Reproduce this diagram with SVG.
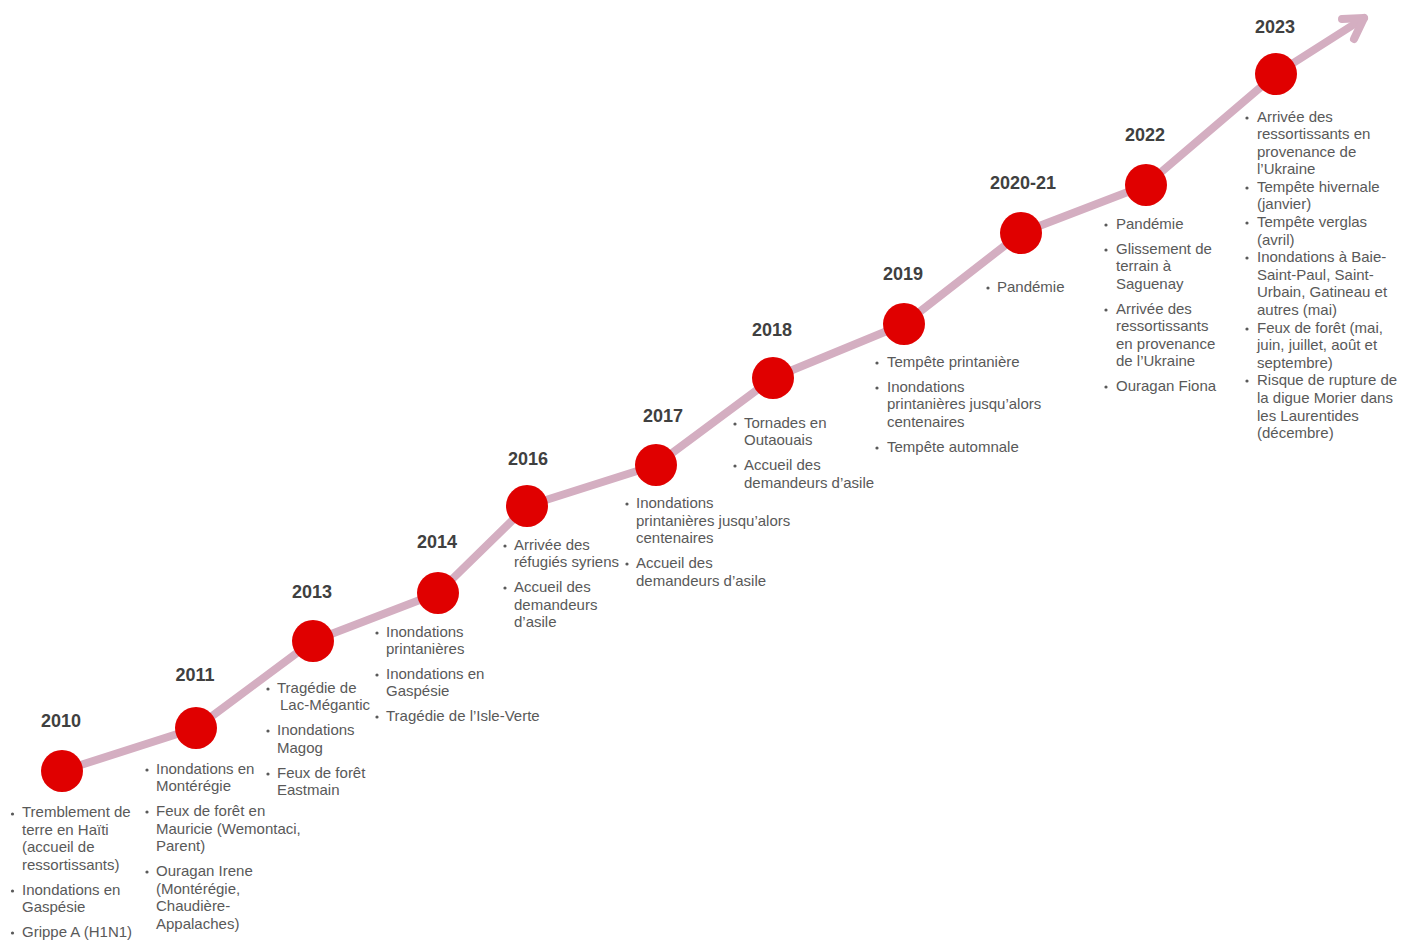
<svg xmlns="http://www.w3.org/2000/svg" width="1406" height="940" viewBox="0 0 1406 940">
<style>
.yr{font-family:"Liberation Sans",Arial,sans-serif;font-size:18px;font-weight:bold;fill:#404040;text-anchor:middle}
.tx{font-family:"Liberation Sans",Arial,sans-serif;font-size:15px;fill:#595959}
.dot{fill:#E00000}
.bl{fill:#595959}
.ln{fill:none;stroke:#D4AEC1;stroke-width:8;stroke-linecap:round;stroke-linejoin:round}
</style>
<rect width="1406" height="940" fill="#ffffff"/>
<g id="connectors">
<polyline class="ln" points="62,771 196,728 313,641 438,593 527,506 656,465 773,378 904,324 1021,233 1146,185 1276,74 1364,18"/>
<path class="ln" d="M1342,19 L1364,18 L1354,39"/>
</g>
<g id="n2010">
<circle class="dot" cx="62" cy="771" r="21"/>
<text class="yr" x="61" y="727">2010</text>
<circle class="bl" cx="12.5" cy="814" r="1.6"/><circle class="bl" cx="12.5" cy="891" r="1.6"/><circle class="bl" cx="12.5" cy="933" r="1.6"/>
<text class="tx"><tspan x="22" y="817">Tremblement de</tspan><tspan x="22" y="835">terre en Haïti</tspan><tspan x="22" y="852">(accueil de</tspan><tspan x="22" y="870">ressortissants)</tspan><tspan x="22" y="895">Inondations en</tspan><tspan x="22" y="912">Gaspésie</tspan><tspan x="22" y="937">Grippe A (H1N1)</tspan></text>
</g>
<g id="n2011">
<circle class="dot" cx="196" cy="728" r="21"/>
<text class="yr" x="195" y="681">2011</text>
<circle class="bl" cx="147" cy="770" r="1.6"/><circle class="bl" cx="147" cy="812" r="1.6"/><circle class="bl" cx="147" cy="872" r="1.6"/>
<text class="tx"><tspan x="156" y="774">Inondations en</tspan><tspan x="156" y="791">Montérégie</tspan><tspan x="156" y="816">Feux de forêt en</tspan><tspan x="156" y="834">Mauricie (Wemontaci,</tspan><tspan x="156" y="851">Parent)</tspan><tspan x="156" y="876">Ouragan Irene</tspan><tspan x="156" y="894">(Montérégie,</tspan><tspan x="156" y="911">Chaudière-</tspan><tspan x="156" y="929">Appalaches)</tspan></text>
</g>
<g id="n2013">
<circle class="dot" cx="313" cy="641" r="21"/>
<text class="yr" x="312" y="598">2013</text>
<circle class="bl" cx="268" cy="689" r="1.6"/><circle class="bl" cx="268" cy="731" r="1.6"/><circle class="bl" cx="268" cy="774" r="1.6"/>
<text class="tx"><tspan x="277" y="693">Tragédie de</tspan><tspan x="280" y="710">Lac-Mégantic</tspan><tspan x="277" y="735">Inondations</tspan><tspan x="277" y="753">Magog</tspan><tspan x="277" y="778">Feux de forêt</tspan><tspan x="277" y="795">Eastmain</tspan></text>
</g>
<g id="n2014">
<circle class="dot" cx="438" cy="593" r="21"/>
<text class="yr" x="437" y="548">2014</text>
<circle class="bl" cx="377" cy="633" r="1.6"/><circle class="bl" cx="377" cy="675" r="1.6"/><circle class="bl" cx="377" cy="717" r="1.6"/>
<text class="tx"><tspan x="386" y="637">Inondations</tspan><tspan x="386" y="654">printanières</tspan><tspan x="386" y="679">Inondations en</tspan><tspan x="386" y="696">Gaspésie</tspan><tspan x="386" y="721">Tragédie de l’Isle-Verte</tspan></text>
</g>
<g id="n2016">
<circle class="dot" cx="527" cy="506" r="21"/>
<text class="yr" x="528" y="465">2016</text>
<circle class="bl" cx="505" cy="546" r="1.6"/><circle class="bl" cx="505" cy="588" r="1.6"/>
<text class="tx"><tspan x="514" y="550">Arrivée des</tspan><tspan x="514" y="567">réfugiés syriens</tspan><tspan x="514" y="592">Accueil des</tspan><tspan x="514" y="610">demandeurs</tspan><tspan x="514" y="627">d’asile</tspan></text>
</g>
<g id="n2017">
<circle class="dot" cx="656" cy="465" r="21"/>
<text class="yr" x="663" y="422">2017</text>
<circle class="bl" cx="627" cy="504" r="1.6"/><circle class="bl" cx="627" cy="564" r="1.6"/>
<text class="tx"><tspan x="636" y="508">Inondations</tspan><tspan x="636" y="526">printanières jusqu’alors</tspan><tspan x="636" y="543">centenaires</tspan><tspan x="636" y="568">Accueil des</tspan><tspan x="636" y="586">demandeurs d’asile</tspan></text>
</g>
<g id="n2018">
<circle class="dot" cx="773" cy="378" r="21"/>
<text class="yr" x="772" y="336">2018</text>
<circle class="bl" cx="735" cy="424" r="1.6"/><circle class="bl" cx="735" cy="466" r="1.6"/>
<text class="tx"><tspan x="744" y="428">Tornades en</tspan><tspan x="744" y="445">Outaouais</tspan><tspan x="744" y="470">Accueil des</tspan><tspan x="744" y="488">demandeurs d’asile</tspan></text>
</g>
<g id="n2019">
<circle class="dot" cx="904" cy="324" r="21"/>
<text class="yr" x="903" y="280">2019</text>
<circle class="bl" cx="877" cy="363" r="1.6"/><circle class="bl" cx="877" cy="388" r="1.6"/><circle class="bl" cx="877" cy="448" r="1.6"/>
<text class="tx"><tspan x="887" y="367">Tempête printanière</tspan><tspan x="887" y="392">Inondations</tspan><tspan x="887" y="409">printanières jusqu’alors</tspan><tspan x="887" y="427">centenaires</tspan><tspan x="887" y="452">Tempête automnale</tspan></text>
</g>
<g id="n2020-21">
<circle class="dot" cx="1021" cy="233" r="21"/>
<text class="yr" x="1023" y="189">2020-21</text>
<circle class="bl" cx="988" cy="288" r="1.6"/>
<text class="tx"><tspan x="997" y="292">Pandémie</tspan></text>
</g>
<g id="n2022">
<circle class="dot" cx="1146" cy="185" r="21"/>
<text class="yr" x="1145" y="141">2022</text>
<circle class="bl" cx="1106" cy="225" r="1.6"/><circle class="bl" cx="1106" cy="250" r="1.6"/><circle class="bl" cx="1106" cy="310" r="1.6"/><circle class="bl" cx="1106" cy="387" r="1.6"/>
<text class="tx"><tspan x="1116" y="229">Pandémie</tspan><tspan x="1116" y="254">Glissement de</tspan><tspan x="1116" y="271">terrain à</tspan><tspan x="1116" y="289">Saguenay</tspan><tspan x="1116" y="314">Arrivée des</tspan><tspan x="1116" y="331">ressortissants</tspan><tspan x="1116" y="349">en provenance</tspan><tspan x="1116" y="366">de l’Ukraine</tspan><tspan x="1116" y="391">Ouragan Fiona</tspan></text>
</g>
<g id="n2023">
<circle class="dot" cx="1276" cy="74" r="21"/>
<text class="yr" x="1275" y="33">2023</text>
<circle class="bl" cx="1247" cy="118" r="1.6"/><circle class="bl" cx="1247" cy="188" r="1.6"/><circle class="bl" cx="1247" cy="223" r="1.6"/><circle class="bl" cx="1247" cy="258" r="1.6"/><circle class="bl" cx="1247" cy="329" r="1.6"/><circle class="bl" cx="1247" cy="381" r="1.6"/>
<text class="tx"><tspan x="1257" y="122">Arrivée des</tspan><tspan x="1257" y="139">ressortissants en</tspan><tspan x="1257" y="157">provenance de</tspan><tspan x="1257" y="174">l’Ukraine</tspan><tspan x="1257" y="192">Tempête hivernale</tspan><tspan x="1257" y="209">(janvier)</tspan><tspan x="1257" y="227">Tempête verglas</tspan><tspan x="1257" y="245">(avril)</tspan><tspan x="1257" y="262">Inondations à Baie-</tspan><tspan x="1257" y="280">Saint-Paul, Saint-</tspan><tspan x="1257" y="297">Urbain, Gatineau et</tspan><tspan x="1257" y="315">autres (mai)</tspan><tspan x="1257" y="333">Feux de forêt (mai,</tspan><tspan x="1257" y="350">juin, juillet, août et</tspan><tspan x="1257" y="368">septembre)</tspan><tspan x="1257" y="385">Risque de rupture de</tspan><tspan x="1257" y="403">la digue Morier dans</tspan><tspan x="1257" y="421">les Laurentides</tspan><tspan x="1257" y="438">(décembre)</tspan></text>
</g>
</svg>
